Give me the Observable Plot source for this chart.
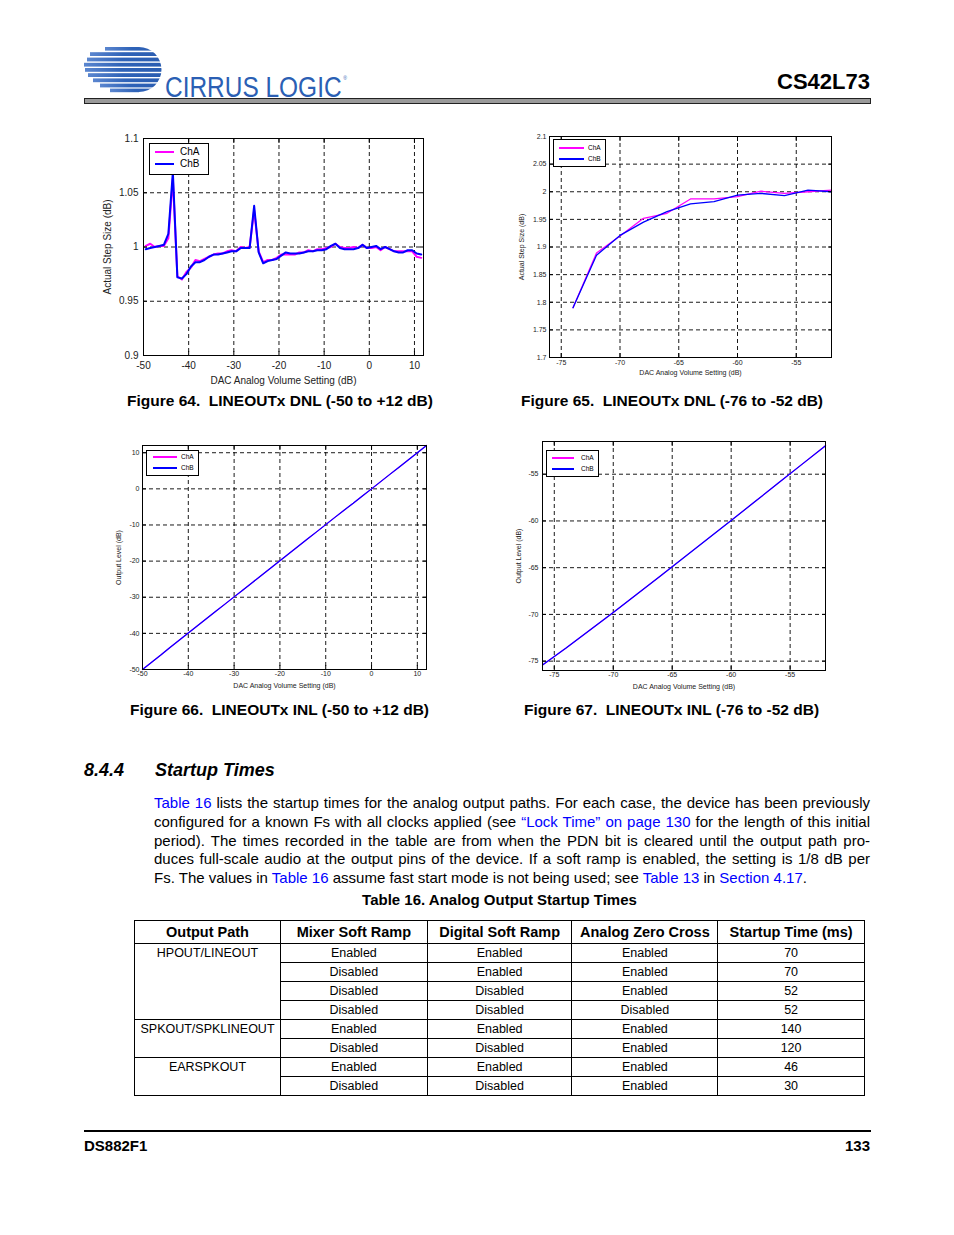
<!DOCTYPE html>
<html><head><meta charset="utf-8">
<script src="https://cdn.jsdelivr.net/npm/d3@7"></script>
<script src="https://cdn.jsdelivr.net/npm/@observablehq/plot@0.6"></script>
<style>
body{margin:0;background:#fff;}
#page{position:relative;width:954px;height:1235px;font-family:"Liberation Sans",Arial,Helvetica,sans-serif;color:#000;overflow:hidden;background:#fff;}
.abs{position:absolute;}
.cap{position:absolute;font-weight:bold;font-size:15.5px;line-height:18px;white-space:nowrap;}
.legend{position:absolute;border:1px solid #000;background:#fff;box-sizing:border-box;}
.legend .sw{position:absolute;}
.legend .lt{position:absolute;white-space:nowrap;color:#000;}
.para{position:absolute;left:154px;width:716px;font-size:15px;line-height:18.75px;}
.para div{text-align:justify;text-align-last:justify;white-space:nowrap;}
.para div.last{text-align-last:left;}
.lk{color:#0000ff;}
#logoText{position:absolute;left:165px;top:72px;font-family:"Liberation Sans Narrow","Liberation Sans",Arial,sans-serif;font-size:29px;line-height:30px;color:#2b5fb4;white-space:nowrap;transform-origin:0 0;}
#logoText span.r{font-size:6px;vertical-align:baseline;position:relative;top:-17px;margin-left:2px;}
table.st{position:absolute;left:134px;top:920px;width:731px;border-collapse:collapse;border:1.5px solid #000;font-size:12.5px;}
table.st th{font-size:14.5px;font-weight:bold;height:22px;border:1px solid #000;padding:0;text-align:center;}
table.st td{height:18px;border:1px solid #000;padding:0;text-align:center;line-height:15px;}
table.st td.grp{vertical-align:top;padding-top:2px;}
</style>
</head>
<body>
<div id="page">
  <svg class="abs" style="left:83px;top:44px" width="84" height="52" viewBox="83 44 84 52">
    <defs>
      <clipPath id="lg"><circle cx="139" cy="69.5" r="22.5"></circle><rect x="80" y="44" width="59" height="52"></rect></clipPath>
      <linearGradient id="lgg" x1="0" x2="1" y1="0" y2="0"><stop offset="0" stop-color="#5b86cf"></stop><stop offset="0.45" stop-color="#2f63b8"></stop><stop offset="1" stop-color="#2a5cb0"></stop></linearGradient>
    </defs>
    <g clip-path="url(#lg)" fill="url(#lgg)">
      <rect x="105" y="47" width="60" height="3.6"></rect>
      <rect x="90" y="52.2" width="75" height="3.8"></rect>
      <rect x="87" y="57.6" width="78" height="3.8"></rect>
      <rect x="84" y="62.8" width="81" height="3.8"></rect>
      <rect x="85" y="68" width="80" height="3.8"></rect>
      <rect x="88" y="73.2" width="77" height="3.8"></rect>
      <rect x="93" y="78.4" width="72" height="3.8"></rect>
      <rect x="100" y="83.6" width="65" height="3.8"></rect>
      <rect x="110" y="88.6" width="55" height="3.6"></rect>
    </g>
  </svg>
  <div id="logoText">CIRRUS LOGIC<span class="r">®</span></div>
  <div class="abs" style="right:84px;top:70px;font-weight:bold;font-size:22px;line-height:24px;">CS42L73</div>
  <div class="abs" style="left:84px;top:98px;width:785px;height:4px;background:#9a9a9a;border:1px solid #222;"></div>

  <div id="c64" class="abs" style="left:90px;top:125px"></div>
  <div id="c65" class="abs" style="left:500px;top:128px"></div>
  <div id="c66" class="abs" style="left:100px;top:438px"></div>
  <div id="c67" class="abs" style="left:500px;top:434px"></div>

  <div class="cap" style="left:127px;top:392px">Figure 64.&nbsp; LINEOUTx DNL (-50 to +12 dB)</div>
  <div class="cap" style="left:521px;top:392px">Figure 65.&nbsp; LINEOUTx DNL (-76 to -52 dB)</div>
  <div class="cap" style="left:130px;top:701px">Figure 66.&nbsp; LINEOUTx INL (-50 to +12 dB)</div>
  <div class="cap" style="left:524px;top:701px">Figure 67.&nbsp; LINEOUTx INL (-76 to -52 dB)</div>

  <div class="abs" style="left:84px;top:759px;font-weight:bold;font-style:italic;font-size:18px;line-height:22px;">8.4.4</div>
  <div class="abs" style="left:155px;top:759px;font-weight:bold;font-style:italic;font-size:18px;line-height:22px;">Startup Times</div>

  <div class="para" style="top:794px">
    <div><span class="lk">Table 16</span> lists the startup times for the analog output paths. For each case, the device has been previously</div>
    <div>configured for a known Fs with all clocks applied (see <span class="lk">“Lock Time” on page 130</span> for the length of this initial</div>
    <div>period). The times recorded in the table are from when the PDN bit is cleared until the output path pro-</div>
    <div>duces full-scale audio at the output pins of the device. If a soft ramp is enabled, the setting is 1/8 dB per</div>
    <div class="last">Fs. The values in <span class="lk">Table 16</span> assume fast start mode is not being used; see <span class="lk">Table 13</span> in <span class="lk">Section 4.17</span>.</div>
  </div>
  <div class="abs" style="left:134px;width:731px;top:891px;text-align:center;font-weight:bold;font-size:15px;line-height:18px;">Table 16. Analog Output Startup Times</div>

  <div class="abs" style="left:84px;top:1130px;width:787px;height:2px;background:#000;"></div>
  <div class="abs" style="left:84px;top:1137px;font-weight:bold;font-size:15px;line-height:18px;">DS882F1</div>
  <div class="abs" style="right:84px;top:1137px;font-weight:bold;font-size:15px;line-height:18px;">133</div>
</div>

<script>
// ---------- DATA ----------
// Figure 64: DNL -50 to +12 dB (step midpoints)
const vol64 = [-49.5,-48.5,-47.5,-46.5,-45.5,-44.5,-43.5,-42.5,-41.5,-40.5,-39.5,-38.5,-37.5,-36.5,-35.5,-34.5,-33.5,-32.5,-31.5,-30.5,-29.5,-28.5,-27.5,-26.5,-25.5,-24.5,-23.5,-22.5,-21.5,-20.5,-19.5,-18.5,-17.5,-16.5,-15.5,-14.5,-13.5,-12.5,-11.5,-10.5,-9.5,-8.5,-7.5,-6.5,-5.5,-4.5,-3.5,-2.5,-1.5,-0.5,0.5,1.5,2.5,3.5,4.5,5.5,6.5,7.5,8.5,9.5,10.5,11.5];
const chA64 = [1.001,1.003,1.000,1.001,1.001,1.008,1.063,0.973,0.970,0.977,0.981,0.988,0.987,0.989,0.991,0.993,0.994,0.994,0.996,0.997,0.996,1.000,0.999,1.000,1.034,0.996,0.986,0.988,0.988,0.990,0.993,0.993,0.993,0.993,0.995,0.995,0.997,0.996,0.998,0.998,0.999,1.000,1.003,1.000,0.999,0.999,1.000,0.999,1.002,0.999,0.999,1.000,0.997,1.000,0.998,0.996,0.996,0.996,0.996,0.996,0.991,0.990];
const chB64 = [0.998,0.999,1.000,1.001,1.002,1.012,1.069,0.972,0.971,0.975,0.982,0.986,0.986,0.988,0.991,0.993,0.993,0.994,0.995,0.996,0.996,0.999,0.999,0.999,1.038,0.995,0.985,0.987,0.988,0.989,0.992,0.995,0.994,0.994,0.994,0.995,0.996,0.996,0.997,0.997,0.998,1.001,1.003,0.999,0.998,0.998,0.998,0.999,1.002,0.999,1.000,1.001,0.998,1.000,0.998,0.996,0.995,0.995,0.997,0.997,0.994,0.993];
const xTicks64 = [-50,-40,-30,-20,-10,0,10];
const yTicks64 = [0.9,0.95,1,1.05,1.1];

// Figure 65: DNL -76 to -52 dB
const vol65 = [-74,-72,-70,-68,-66,-64,-62,-60,-58,-56,-54,-52];
const chA65 = [1.790,1.889,1.920,1.952,1.961,1.987,1.987,1.991,2.001,1.997,2.000,2.003];
const chB65 = [1.790,1.885,1.921,1.945,1.964,1.978,1.982,1.994,1.997,1.993,2.003,2.000];
const xTicks65 = [-75,-70,-65,-60,-55];
const yTicks65 = [1.7,1.75,1.8,1.85,1.9,1.95,2,2.05,2.1];

// Figure 66: INL -50 to +12 dB
const vol66 = [-50,-48,-46,-44,-42,-40,-38,-36,-34,-32,-30,-28,-26,-24,-22,-20,-18,-16,-14,-12,-10,-8,-6,-4,-2,0,2,4,6,8,10,12];
const chA66 = [-50.0,-48.0,-46.0,-43.9,-41.9,-39.9,-37.9,-35.9,-33.9,-31.9,-29.9,-27.9,-25.9,-23.9,-21.9,-19.9,-17.9,-15.9,-13.9,-11.9,-9.9,-7.9,-5.9,-4.0,-2.0,0.0,2.0,4.0,6.0,8.0,10.0,12.0];
const chB66 = [-50.0,-48.0,-46.0,-43.9,-41.9,-39.9,-37.9,-35.9,-33.9,-31.9,-29.9,-27.9,-25.9,-23.9,-21.9,-19.9,-17.9,-15.9,-13.9,-11.9,-9.9,-7.9,-5.9,-4.0,-2.0,0.0,2.0,4.0,6.0,8.0,10.0,12.0];
const xTicks66 = [-50,-40,-30,-20,-10,0,10];
const yTicks66 = [-50,-40,-30,-20,-10,0,10];

// Figure 67: INL -76 to -52 dB
const vol67 = [-76,-74,-72,-70,-68,-66,-64,-62,-60,-58,-56,-54,-52];
const chA67 = [-75.4,-73.6,-71.7,-69.8,-67.85,-65.88,-63.9,-61.92,-59.94,-57.95,-55.95,-53.95,-51.95];
const chB67 = [-75.4,-73.6,-71.7,-69.8,-67.85,-65.9,-63.92,-61.94,-59.95,-57.95,-55.95,-53.95,-51.95];
const xTicks67 = [-75,-70,-65,-60,-55];
const yTicks67 = [-75,-70,-65,-60,-55];

const seriesNames = ["ChA","ChB"];
const seriesColors = ["#ff00ff","#0000ff"];

// Table 16
const tblHeader = ["Output Path","Mixer Soft Ramp","Digital Soft Ramp","Analog Zero Cross","Startup Time (ms)"];
const tblPath = ["HPOUT/LINEOUT","HPOUT/LINEOUT","HPOUT/LINEOUT","HPOUT/LINEOUT","SPKOUT/SPKLINEOUT","SPKOUT/SPKLINEOUT","EARSPKOUT","EARSPKOUT"];
const tblMixer = ["Enabled","Disabled","Disabled","Disabled","Enabled","Disabled","Enabled","Disabled"];
const tblDigital = ["Enabled","Enabled","Disabled","Disabled","Enabled","Disabled","Enabled","Disabled"];
const tblZero = ["Enabled","Enabled","Enabled","Disabled","Enabled","Enabled","Enabled","Enabled"];
const tblTime = [70,70,52,52,140,120,46,30];

// ---------- LOGO TEXT FIT ----------
(function(){
  const lt = document.getElementById("logoText");
  const w = lt.getBoundingClientRect().width;
  const k = Math.min(1, 182 / w);
  lt.style.transform = "scaleX(" + k + ")";
})();

// ---------- CHARTS ----------
function chart(o){
  const rows = o.xs.map((x,i)=>({x, a:o.ya[i], b:o.yb[i]}));
  const grid = {stroke:"#000", strokeOpacity:1, strokeWidth:0.9, strokeDasharray:"4,3"};
  const fmt = d => String(d);
  const noText = () => "";
  const p = Plot.plot({
    width:o.width, height:o.height,
    marginLeft:o.mL, marginTop:o.mT, marginRight:o.mR, marginBottom:o.mB,
    style:{fontFamily:"Liberation Sans, Arial, sans-serif", fontSize:o.fs+"px", background:"transparent", color:"#000", overflow:"visible"},
    x:{domain:o.xDomain}, y:{domain:o.yDomain},
    marks:[
      Plot.gridX(o.xTicks, grid),
      Plot.gridY(o.yTicks, grid),
      Plot.line(rows,{x:"x", y:"a", stroke:seriesColors[0], strokeWidth:o.lw}),
      Plot.line(rows,{x:"x", y:"b", stroke:seriesColors[1], strokeWidth:o.lw}),
      Plot.frame({stroke:"#000", strokeWidth:1}),
      Plot.axisX(o.xTicks,{anchor:"bottom", tickSize:0, tickPadding:o.xPad, tickFormat:fmt, label:o.xLabel, labelAnchor:"center", labelArrow:"none", labelOffset:o.xLO, fill:"#222"}),
      Plot.axisY(o.yTicks,{anchor:"left", tickSize:0, tickPadding:o.yPad, tickFormat:fmt, label:o.yLabel, labelAnchor:"center", labelArrow:"none", labelOffset:o.yLO, fill:"#222"}),
      Plot.axisX(o.xTicks,{anchor:"bottom", tickSize:-4, tickFormat:noText, label:null}),
      Plot.axisX(o.xTicks,{anchor:"top", tickSize:-4, tickFormat:noText, label:null}),
      Plot.axisY(o.yTicks,{anchor:"left", tickSize:-4, tickFormat:noText, label:null}),
      Plot.axisY(o.yTicks,{anchor:"right", tickSize:-4, tickFormat:noText, label:null})
    ]
  });
  document.getElementById(o.id).appendChild(p);
}

function legend(l){
  const d = document.createElement("div");
  d.className = "legend";
  Object.assign(d.style,{left:l.left+"px", top:l.top+"px", width:l.w+"px", height:l.h+"px"});
  seriesNames.forEach((name,i)=>{
    const sw = document.createElement("div");
    sw.className = "sw";
    Object.assign(sw.style,{left:l.sx+"px", width:l.sw+"px", top:(l.rows[i]-l.lw/2)+"px", height:l.lw+"px", background:seriesColors[i]});
    d.appendChild(sw);
    const t = document.createElement("div");
    t.className = "lt";
    t.textContent = name;
    Object.assign(t.style,{left:l.tx+"px", top:(l.rows[i]-l.fs*0.6)+"px", fontSize:l.fs+"px", lineHeight:(l.fs*1.2)+"px"});
    d.appendChild(t);
  });
  document.getElementById("page").appendChild(d);
}

chart({id:"c64", width:345, height:265, mL:53, mT:13, mR:12, mB:35, xDomain:[-50,12], yDomain:[0.9,1.1],
  xTicks:xTicks64, yTicks:yTicks64, xs:vol64, ya:chA64, yb:chB64, lw:2, fs:10, xPad:6, yPad:5,
  xLabel:"DAC Analog Volume Setting (dB)", yLabel:"Actual Step Size (dB)", xLO:28, yLO:40});
chart({id:"c65", width:345, height:252, mL:49, mT:8, mR:14, mB:23, xDomain:[-76,-52], yDomain:[1.7,2.1],
  xTicks:xTicks65, yTicks:yTicks65, xs:vol65, ya:chA65, yb:chB65, lw:1.3, fs:7, xPad:3, yPad:3,
  xLabel:"DAC Analog Volume Setting (dB)", yLabel:"Actual Step Size (dB)", xLO:17, yLO:30});
chart({id:"c66", width:340, height:255, mL:42, mT:7, mR:14, mB:24, xDomain:[-50,12], yDomain:[-50,12],
  xTicks:xTicks66, yTicks:yTicks66, xs:vol66, ya:chA66, yb:chB66, lw:1.2, fs:7, xPad:2, yPad:3,
  xLabel:"DAC Analog Volume Setting (dB)", yLabel:"Output Level (dB)", xLO:18, yLO:26});
chart({id:"c67", width:340, height:260, mL:42, mT:7, mR:15, mB:24, xDomain:[-76,-52], yDomain:[-76,-51.5],
  xTicks:xTicks67, yTicks:yTicks67, xs:vol67, ya:chA67, yb:chB67, lw:1.2, fs:7, xPad:2, yPad:4,
  xLabel:"DAC Analog Volume Setting (dB)", yLabel:"Output Level (dB)", xLO:18, yLO:26});

legend({left:149, top:143, w:60, h:32, sx:5, sw:19, tx:30, rows:[8,20], lw:2, fs:10});
legend({left:553, top:139, w:53, h:28, sx:5, sw:25, tx:34, rows:[8,19], lw:1.8, fs:6.5});
legend({left:146, top:450, w:53, h:26, sx:6, sw:24, tx:34, rows:[6,17], lw:1.2, fs:6.5});
legend({left:546, top:450, w:53, h:27, sx:5, sw:22, tx:34, rows:[7,18], lw:1.2, fs:6.5});

// ---------- TABLE ----------
(function(){
  const t = document.createElement("table");
  t.className = "st";
  const cw = [146,147,145,146,147];
  const cg = document.createElement("colgroup");
  cw.forEach(w=>{const c=document.createElement("col"); c.style.width=w+"px"; cg.appendChild(c);});
  t.appendChild(cg);
  const hr = document.createElement("tr");
  tblHeader.forEach(h=>{const th=document.createElement("th"); th.textContent=h; hr.appendChild(th);});
  t.appendChild(hr);
  tblPath.forEach((p,i)=>{
    const tr = document.createElement("tr");
    if (i===0 || tblPath[i-1]!==p){
      let span=1; while(tblPath[i+span]===p) span++;
      const td=document.createElement("td"); td.className="grp"; td.rowSpan=span; td.textContent=p; tr.appendChild(td);
    }
    [tblMixer[i],tblDigital[i],tblZero[i],String(tblTime[i])].forEach(v=>{const td=document.createElement("td"); td.textContent=v; tr.appendChild(td);});
    t.appendChild(tr);
  });
  document.getElementById("page").appendChild(t);
})();
</script>
</body></html>
